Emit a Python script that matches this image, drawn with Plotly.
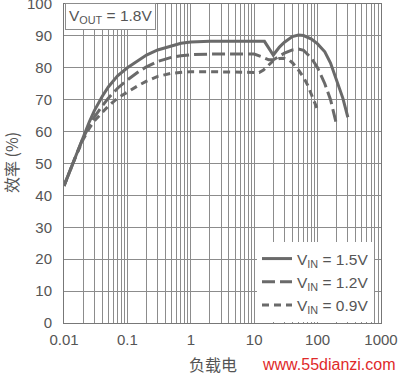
import plotly.graph_objects as go

# Load current (mA) and efficiency (%)
x_15 = [0.01, 0.012, 0.015, 0.02, 0.025, 0.03, 0.04, 0.05, 0.07, 0.1, 0.15, 0.2, 0.3, 0.5, 0.7, 1, 2,
        14.5, 20, 25, 30, 40, 50, 60, 80, 100, 130, 160, 200, 250, 300]
y_15 = [43, 47, 52, 58.5, 63, 66.5, 71, 74, 77.5, 80, 82.5, 84, 85.6, 87, 87.7, 88.1, 88.3,
        88.3, 84, 86.5, 88, 89.8, 90.3, 90.1, 89, 87.5, 85, 81.5, 76, 70.5, 64.5]

x_12 = [0.01, 0.012, 0.015, 0.02, 0.025, 0.03, 0.04, 0.05, 0.07, 0.1, 0.15, 0.2, 0.3, 0.5, 0.7, 1, 2,
        10, 13, 17, 20, 25, 30, 40, 50, 60, 80, 100, 130, 160, 200]
y_12 = [43, 47, 52, 58, 61.8, 64.5, 68, 70.5, 73.6, 76.2, 78.8, 80.3, 82, 83.3, 83.8, 84.1, 84.3,
        84.3, 83.5, 82.5, 82.5, 83.7, 84.6, 85.6, 85.9, 85.5, 83, 80, 75, 70, 62]

x_09 = [0.01, 0.012, 0.015, 0.02, 0.025, 0.03, 0.04, 0.05, 0.07, 0.1, 0.15, 0.2, 0.3, 0.5, 0.7, 1, 2,
        12, 14, 17, 20, 25, 29, 35, 40, 50, 60, 70, 80, 90, 100]
y_09 = [43, 47, 51.8, 57.5, 61, 63.3, 66, 68, 70.5, 72.4, 74.5, 75.8, 77.3, 78.3, 78.6, 78.8, 78.8,
        78.5, 79.3, 81, 82.2, 82.9, 83, 82.5, 81.6, 79.3, 77, 74.5, 71.5, 69, 66.8]

x_ticks = [0.01, 0.1, 1, 10, 100, 1000]
x_tick_labels = ["0.01", "0.1", "1", "10", "100", "1000"]
y_ticks = [0, 10, 20, 30, 40, 50, 60, 70, 80, 90, 100]

minor_vals = [m * 10 ** e for e in range(-2, 3) for m in range(2, 10)]

line_col = "#6a6a6a"
grid_col = "#8c8c8c"
text_col = "#555555"

plot_w = 399 - 64 - 18
plot_h = 376 - 4 - 53
def px(xp):
    return (xp - 64) / plot_w
def py(yp):
    return (323 - yp) / plot_h

fig = go.Figure()
fig.add_trace(go.Scatter(x=x_15, y=y_15, mode="lines", name="V<sub>IN</sub> = 1.5V",
                         line=dict(color=line_col, width=3)))
fig.add_trace(go.Scatter(x=x_12, y=y_12, mode="lines", name="V<sub>IN</sub> = 1.2V",
                         line=dict(color=line_col, width=3, dash="13px,5px")))
fig.add_trace(go.Scatter(x=x_09, y=y_09, mode="lines", name="V<sub>IN</sub> = 0.9V",
                         line=dict(color=line_col, width=3, dash="7px,5px")))

fig.update_layout(
    width=399, height=376,
    margin=dict(l=64, r=18, t=4, b=53),
    paper_bgcolor="white", plot_bgcolor="white",
    font=dict(family="Liberation Sans, Arial, sans-serif", size=15, color=text_col),
    showlegend=True,
    legend=dict(x=px(374), y=py(322), xanchor="right", yanchor="bottom",
                bgcolor="white", borderwidth=0,
                font=dict(size=15.5, color=text_col),
                tracegroupgap=0, itemwidth=30),
    annotations=[
        dict(x=px(65), y=py(3), xref="paper", yref="paper", xanchor="left", yanchor="top",
             text="V<sub>OUT</sub> = 1.8V", showarrow=False, bgcolor="white",
             bordercolor=grid_col, borderwidth=1, borderpad=3,
             font=dict(size=15.5, color=text_col)),
        dict(x=px(11), y=py(163), xref="paper", yref="paper", xanchor="center", yanchor="middle",
             text="效率 (%)", showarrow=False, textangle=-90,
             font=dict(family="Noto Sans CJK SC", size=16, color=text_col)),
        dict(x=px(213), y=py(364), xref="paper", yref="paper", xanchor="center", yanchor="middle",
             text="负载电", showarrow=False,
             font=dict(family="Noto Sans CJK SC", size=16, color=text_col)),
        dict(x=px(329), y=py(364), xref="paper", yref="paper", xanchor="center", yanchor="middle",
             text="www.55dianzi.com", showarrow=False,
             font=dict(family="Liberation Sans, Arial, sans-serif", size=16, color="#e02a2a")),
    ],
)

fig.update_xaxes(type="log", range=[-2, 3], tickvals=x_ticks, ticktext=x_tick_labels,
                 automargin=False, ticklabeloverflow="allow",
                 showgrid=True, gridcolor=grid_col, gridwidth=1,
                 minor=dict(tickvals=minor_vals, showgrid=True, gridcolor=grid_col, gridwidth=1),
                 showline=True, linecolor="#777777", linewidth=1, mirror=True,
                 ticks="outside", ticklen=3, tickcolor="rgba(0,0,0,0)", zeroline=False,
                 tickfont=dict(size=15, color=text_col))
fig.update_yaxes(range=[0, 100], tickvals=y_ticks, automargin=False, ticklabeloverflow="allow",
                 showgrid=True, gridcolor=grid_col, gridwidth=1,
                 showline=True, linecolor="#777777", linewidth=1, mirror=True,
                 ticks="outside", ticklen=8, tickcolor="rgba(0,0,0,0)", zeroline=False,
                 tickfont=dict(size=15, color=text_col))

fig.write_html("out.html", config={"displayModeBar": False},
               post_script="document.body.style.margin='0';")
